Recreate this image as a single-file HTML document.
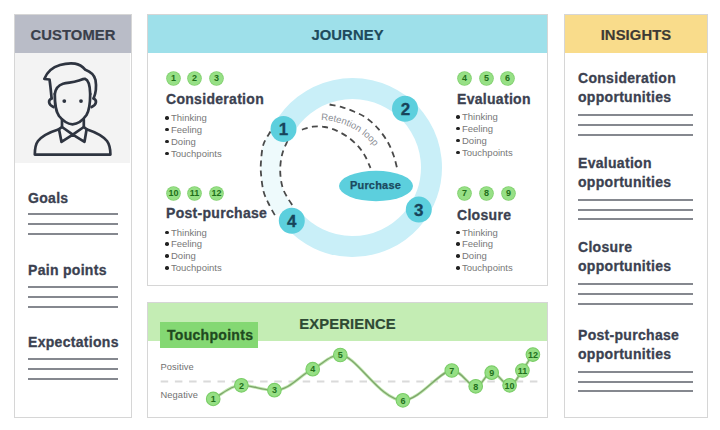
<!DOCTYPE html>
<html><head><meta charset="utf-8">
<style>
*{margin:0;padding:0;box-sizing:border-box}
html,body{width:720px;height:430px;overflow:hidden;background:#fff}
body{position:relative;font-family:"Liberation Sans",sans-serif}
.a{position:absolute}
.panel{position:absolute;background:#fff;border:1.5px solid #d6d6d6}
.hdr{position:absolute;left:0;top:0;right:0;height:38px;text-align:center;font-weight:bold;font-size:14.8px;line-height:40px;letter-spacing:0.1px;-webkit-text-stroke-width:0.2px}
.h{position:absolute;font-weight:bold;font-size:14px;color:#3b4150;white-space:nowrap;letter-spacing:0.3px;-webkit-text-stroke-width:0.3px}
.ln{position:absolute;height:2px;background:#85888f}
.bl{position:absolute;font-size:9.5px;color:#777;white-space:nowrap;line-height:11.9px}
.bl i{display:inline-block;width:3.5px;height:3.5px;border-radius:50%;background:#222;margin-right:2.5px;vertical-align:1.5px}
.bd{position:absolute;width:13px;height:13px;margin:1px 0 0 1px;border-radius:50%;background:#97e086;box-shadow:0 0 0 0.8px #80d06e;color:#1f6e1a;font-weight:bold;font-size:9px;line-height:13px;text-align:center}
.sm{position:absolute;font-size:9.3px;color:#707070;letter-spacing:0.1px}
</style></head><body>

<!-- CUSTOMER -->
<div class="panel" style="left:14px;top:14px;width:118px;height:404px">
  <div class="hdr" style="background:#b9bcc7;color:#3a3f4b">CUSTOMER</div>
  <div class="a" style="left:0;top:38px;width:115px;height:110px;background:#f3f3f3"></div>
</div>
<svg class="a" style="left:0;top:0" width="140" height="170" viewBox="0 0 140 170">
  <g fill="none" stroke="#2e3440" stroke-width="2.7" stroke-linejoin="round" stroke-linecap="round">
    <!-- body -->
    <path d="M59,129.2 C50,132 42,136 38,141 C35,145 34.8,149 34.8,154.6 L110.4,154.6 C110.4,149 110,145 107,141 C103,136 95,132 86.6,129.2"/>
    <!-- neck + V -->
    <path d="M62,119.5 L62,127 L72.8,134.6 L83.8,127 L83.8,119.5"/>
    <!-- collar triangles -->
    <path d="M59,129.2 L62,127 M59,129.2 L61.5,141.9 L72.8,134.6 M86.6,129.2 L83.8,127 M86.6,129.2 L84.5,141.9 L72.8,134.6"/>
    <!-- face -->
    <path d="M54.8,94 C54.8,103 55,110 59,116 C63,121 68,124 72.5,124.3 C78,124 83,120 86.5,115 C89.5,110 90.2,103 90.2,94"/>
    <path d="M51.6,98.5 C48,100 48,104.5 53.5,107"/>
    <path d="M93.6,98.5 C97,100 97,104.5 91.6,107"/>
    <!-- hair -->
    <path d="M51.6,98.5 C51,92 50.5,86 49.5,79.5 L44.3,79 C47,72 53,67 60,65 C66,63.2 71,63.2 75,63.6 C79,64.2 82,66 85.4,69.8 C90,71.5 94,74 95.5,80 C96.5,86 95.5,94 93.6,98.5"/>
    <path d="M54.8,94 C55.5,89 58,85.5 63,83.8 C68,82.5 73,82.6 78,80.8 C81,79.8 83,78.6 85,78.8 C88.5,80 90,85 90.2,94"/>
  </g>
  <circle cx="64.3" cy="101.1" r="1.9" fill="#2e3440"/>
  <circle cx="81" cy="101.1" r="1.9" fill="#2e3440"/>
</svg>
<div class="h" style="left:28px;top:189.5px">Goals</div>
<div class="ln" style="left:28px;top:213px;width:90px"></div>
<div class="ln" style="left:28px;top:223px;width:90px"></div>
<div class="ln" style="left:28px;top:233px;width:90px"></div>
<div class="h" style="left:28px;top:262px">Pain points</div>
<div class="ln" style="left:28px;top:286px;width:90px"></div>
<div class="ln" style="left:28px;top:296px;width:90px"></div>
<div class="ln" style="left:28px;top:306px;width:90px"></div>
<div class="h" style="left:28px;top:334px">Expectations</div>
<div class="ln" style="left:28px;top:358px;width:90px"></div>
<div class="ln" style="left:28px;top:368px;width:90px"></div>
<div class="ln" style="left:28px;top:378px;width:90px"></div>

<!-- JOURNEY -->
<div class="panel" style="left:147px;top:14px;width:401px;height:272px">
  <div class="hdr" style="background:#9ee0ea;color:#1f4a5c">JOURNEY</div>
</div>


<!-- journey graphics -->
<svg class="a" style="left:0;top:0" width="720" height="430" viewBox="0 0 720 430">
  <path d="M270.5,131.5 C269.3,133.7 265.0,139.5 263.4,144.5 C261.8,149.5 261.4,156.7 261.0,161.6 C260.6,166.5 260.6,168.9 261.0,173.8 C261.4,178.7 262.2,186.0 263.4,190.9 C264.6,195.8 266.4,198.9 268.3,203.0 C270.2,207.1 273.9,213.4 275.0,215.5 L293.5,207.0 C292.6,205.5 289.6,201.3 287.8,198.2 C286.0,195.1 284.1,192.1 282.9,188.4 C281.7,184.7 280.9,180.3 280.5,176.2 C280.1,172.1 280.1,168.1 280.5,164.0 C280.9,159.9 281.7,155.6 282.9,151.8 C284.1,148.0 286.7,142.8 287.5,141.0 Z" fill="#eefafc"/>
  <path d="M283.5,129 A79,79 0 1 1 293.1,219.6" fill="none" stroke="#c9eff8" stroke-width="21"/>
  <g fill="none" stroke="#4a4a4a" stroke-width="1.8" stroke-dasharray="6 4.3">
    <path d="M270.5,131.5 C269.3,133.7 265.0,139.5 263.4,144.5 C261.8,149.5 261.4,156.7 261.0,161.6 C260.6,166.5 260.6,168.9 261.0,173.8 C261.4,178.7 262.2,186.0 263.4,190.9 C264.6,195.8 266.4,198.9 268.3,203.0 C270.2,207.1 273.9,213.4 275.0,215.5"/>
    <path d="M287.5,141.0 C286.7,142.8 284.1,148.0 282.9,151.8 C281.7,155.6 280.9,159.9 280.5,164.0 C280.1,168.1 280.1,172.1 280.5,176.2 C280.9,180.3 281.7,184.7 282.9,188.4 C284.1,192.1 286.0,195.1 287.8,198.2 C289.6,201.3 292.6,205.5 293.5,207.0"/>
    <path d="M329.6,104.5 C331.8,105.0 338.4,106.1 342.5,107.3 C346.6,108.5 350.4,110.0 354.4,111.8 C358.3,113.5 362.2,115.0 366.2,117.8 C370.1,120.6 374.5,124.5 378.1,128.6 C381.7,132.7 385.4,137.9 388.0,142.5 C390.6,147.1 392.2,151.5 393.9,156.3 C395.5,161.1 397.2,169.0 397.9,171.5"/>
    <path d="M301.9,129.6 C303.7,129.1 309.0,127.1 312.8,126.7 C316.6,126.3 320.8,126.3 324.7,127.0 C328.6,127.7 332.6,128.8 336.5,130.6 C340.4,132.3 344.8,134.9 348.4,137.5 C352.0,140.1 355.5,143.3 358.3,146.4 C361.1,149.5 363.2,152.7 365.2,156.3 C367.2,159.9 369.6,166.1 370.5,168.0"/>
  </g>
  <path id="rl" d="M321,120 A71,71 0 0 1 390,190" fill="none"/>
  <text font-family="Liberation Sans" font-size="9.5" fill="#8a8d94"><textPath href="#rl">Retention loop</textPath></text>
  <ellipse cx="376" cy="186" rx="37" ry="15.2" fill="#5ccfdd"/>
  <text x="375.5" y="188.5" text-anchor="middle" font-family="Liberation Sans" font-weight="bold" font-size="11" letter-spacing="0.2" stroke="#1b4a60" stroke-width="0.25" fill="#1b4a60">Purchase</text>
  <g fill="#5ccfdd">
    <circle cx="283.5" cy="129" r="13"/>
    <circle cx="405" cy="108.7" r="13"/>
    <circle cx="418.8" cy="209.6" r="13"/>
    <circle cx="291.8" cy="220.8" r="13"/>
  </g>
  <g font-family="Liberation Sans" font-weight="bold" font-size="17" fill="#17445a" stroke="#17445a" stroke-width="0.3" text-anchor="middle">
    <text x="283.5" y="135">1</text>
    <text x="405.5" y="114.8">2</text>
    <text x="418.8" y="215.7">3</text>
    <text x="291.8" y="226.9">4</text>
  </g>
</svg>
<div class="bd" style="left:166px;top:71px">1</div>
<div class="bd" style="left:187px;top:71px">2</div>
<div class="bd" style="left:209px;top:71px">3</div>
<div class="h" style="left:166px;top:91px">Consideration</div>
<div class="bl" style="left:165px;top:112px"><i></i>Thinking<br><i></i>Feeling<br><i></i>Doing<br><i></i>Touchpoints</div>
<div class="bd" style="left:457px;top:71px">4</div>
<div class="bd" style="left:479px;top:71px">5</div>
<div class="bd" style="left:500px;top:71px">6</div>
<div class="h" style="left:457px;top:91px">Evaluation</div>
<div class="bl" style="left:456px;top:111px"><i></i>Thinking<br><i></i>Feeling<br><i></i>Doing<br><i></i>Touchpoints</div>
<div class="bd" style="left:166px;top:186px">10</div>
<div class="bd" style="left:187px;top:186px">11</div>
<div class="bd" style="left:209px;top:186px">12</div>
<div class="h" style="left:166px;top:205px">Post-purchase</div>
<div class="bl" style="left:165px;top:226.5px"><i></i>Thinking<br><i></i>Feeling<br><i></i>Doing<br><i></i>Touchpoints</div>
<div class="bd" style="left:457px;top:186px">7</div>
<div class="bd" style="left:479px;top:186px">8</div>
<div class="bd" style="left:501px;top:186px">9</div>
<div class="h" style="left:457px;top:207px">Closure</div>
<div class="bl" style="left:456px;top:226.5px"><i></i>Thinking<br><i></i>Feeling<br><i></i>Doing<br><i></i>Touchpoints</div>

<!-- EXPERIENCE -->
<div class="panel" style="left:147px;top:302px;width:401px;height:116px">
  <div class="hdr" style="background:#c4edb4;color:#2e4a34;height:37.5px;line-height:42px">EXPERIENCE</div>
</div>
<div class="a" style="left:160px;top:322px;width:98px;height:26px;background:#84d873"></div>
<div class="h" style="left:167px;top:327px;color:#1f4a1f">Touchpoints</div>


<!-- experience chart -->
<div class="sm" style="left:160.5px;top:362px">Positive</div>
<div class="sm" style="left:160.5px;top:389.5px">Negative</div>
<svg class="a" style="left:0;top:0" width="720" height="430" viewBox="0 0 720 430">
  <line x1="160.7" y1="381.5" x2="543" y2="381.5" stroke="#dadada" stroke-width="2" stroke-dasharray="7.5 6.7"/>
  <path d="M213.2,398.9 C225,392 232,385.3 241.4,385.3 C252,385.3 262,390.2 274.4,390.2 C290,390.2 300,375 312.7,369.2 C324,363 330,355 340.3,355 C356,355 380,400.3 402.9,400.3 C420,400.3 440,370.5 451.8,370.5 C462,370.5 468,386.3 475.7,386.3 C483,386.3 485,372.7 491.7,372.7 C499,372.7 503,385.3 509.6,385.3 C515,385.3 518,376 522.4,370.5 C527,364 530,358 532.9,354.6" fill="none" stroke="#bfe9ae" stroke-width="3"/>
  <path d="M213.2,398.9 C225,392 232,385.3 241.4,385.3 C252,385.3 262,390.2 274.4,390.2 C290,390.2 300,375 312.7,369.2 C324,363 330,355 340.3,355 C356,355 380,400.3 402.9,400.3 C420,400.3 440,370.5 451.8,370.5 C462,370.5 468,386.3 475.7,386.3 C483,386.3 485,372.7 491.7,372.7 C499,372.7 503,385.3 509.6,385.3 C515,385.3 518,376 522.4,370.5 C527,364 530,358 532.9,354.6" fill="none" stroke="#7fa56c" stroke-width="1.3"/>
  <g fill="#96df84" stroke="#7acd67" stroke-width="1.1">
    <circle cx="213.2" cy="398.9" r="6.8"/>
    <circle cx="241.4" cy="385.3" r="6.8"/>
    <circle cx="274.4" cy="390.2" r="6.8"/>
    <circle cx="312.7" cy="369.2" r="6.8"/>
    <circle cx="340.3" cy="355" r="6.8"/>
    <circle cx="402.9" cy="400.3" r="6.8"/>
    <circle cx="451.8" cy="370.5" r="6.8"/>
    <circle cx="475.7" cy="386.3" r="6.8"/>
    <circle cx="491.7" cy="372.7" r="6.8"/>
    <circle cx="509.6" cy="385.3" r="6.8"/>
    <circle cx="522.4" cy="370.5" r="6.8"/>
    <circle cx="532.9" cy="354.6" r="6.8"/>
  </g>
  <g font-family="Liberation Sans" font-weight="bold" font-size="9" fill="#23701d" text-anchor="middle">
    <text x="213.2" y="402.1">1</text>
    <text x="241.4" y="388.5">2</text>
    <text x="274.4" y="393.4">3</text>
    <text x="312.7" y="372.4">4</text>
    <text x="340.3" y="358.2">5</text>
    <text x="402.9" y="403.5">6</text>
    <text x="451.8" y="373.7">7</text>
    <text x="475.7" y="389.5">8</text>
    <text x="491.7" y="375.9">9</text>
    <text x="509.6" y="388.5">10</text>
    <text x="522.4" y="373.7">11</text>
    <text x="532.9" y="357.8">12</text>
  </g>
</svg>

<!-- INSIGHTS -->
<div class="panel" style="left:564px;top:14px;width:144px;height:404px">
  <div class="hdr" style="background:#f9dc8b;color:#3d3a35">INSIGHTS</div>
</div>
<div class="h" style="left:578px;top:69px;line-height:19px">Consideration<br>opportunities</div>
<div class="ln" style="left:578px;top:114px;width:115px"></div>
<div class="ln" style="left:578px;top:124px;width:115px"></div>
<div class="ln" style="left:578px;top:134px;width:115px"></div>
<div class="h" style="left:578px;top:154px;line-height:19px">Evaluation<br>opportunities</div>
<div class="ln" style="left:578px;top:199px;width:115px"></div>
<div class="ln" style="left:578px;top:209px;width:115px"></div>
<div class="ln" style="left:578px;top:218px;width:115px"></div>
<div class="h" style="left:578px;top:238px;line-height:19px">Closure<br>opportunities</div>
<div class="ln" style="left:578px;top:283px;width:115px"></div>
<div class="ln" style="left:578px;top:293px;width:115px"></div>
<div class="ln" style="left:578px;top:303px;width:115px"></div>
<div class="h" style="left:578px;top:326px;line-height:19px">Post-purchase<br>opportunities</div>
<div class="ln" style="left:578px;top:371px;width:115px"></div>
<div class="ln" style="left:578px;top:381px;width:115px"></div>
<div class="ln" style="left:578px;top:390px;width:115px"></div>

</body></html>
